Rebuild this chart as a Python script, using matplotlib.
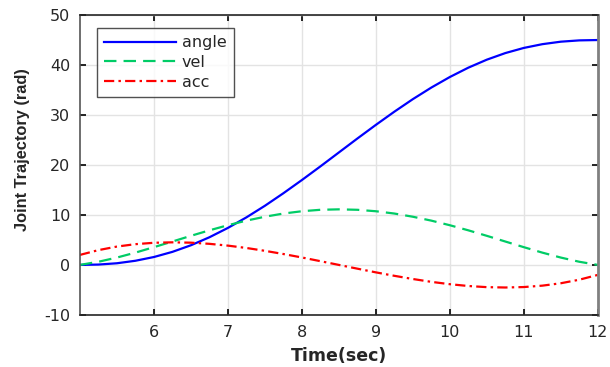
import numpy as np
import matplotlib
matplotlib.use('Agg')
import matplotlib.pyplot as plt
import matplotlib as mpl

mpl.rc('font', family='DejaVu Sans', size=11)

# time axis (sec), read every 0.25 s off the picture
Time = [5.0, 5.25, 5.5, 5.75, 6.0, 6.25, 6.5, 6.75, 7.0, 7.25, 7.5, 7.75, 8.0, 8.25, 8.5,
        8.75, 9.0, 9.25, 9.5, 9.75, 10.0, 10.25, 10.5, 10.75, 11.0, 11.25, 11.5, 11.75, 12.0]

Angle = [0.0, 0.07, 0.33, 0.83, 1.58, 2.61, 3.93, 5.53, 7.40, 9.51, 11.83, 14.34, 16.98, 19.71, 22.50,
         25.29, 28.02, 30.66, 33.17, 35.49, 37.60, 39.47, 41.07, 42.39, 43.42, 44.17, 44.67, 44.93, 45.0]

Vel = [0.0, 0.63, 1.47, 2.46, 3.55, 4.68, 5.82, 6.92, 7.94, 8.86, 9.64, 10.28, 10.74, 11.03, 11.12,
       11.03, 10.74, 10.28, 9.64, 8.86, 7.94, 6.92, 5.82, 4.68, 3.55, 2.46, 1.47, 0.63, 0.0]

Acc = [2.00, 2.96, 3.67, 4.15, 4.43, 4.52, 4.45, 4.22, 3.86, 3.39, 2.82, 2.18, 1.49, 0.75, 0.0,
       -0.75, -1.49, -2.18, -2.82, -3.39, -3.86, -4.22, -4.45, -4.52, -4.43, -4.15, -3.67, -2.96, -2.00]

XTicks = [6, 7, 8, 9, 10, 11, 12]
YTicks = [-10, 0, 10, 20, 30, 40, 50]
YTickLabels = ['-10', '0', '10', '20', '30', '40', '50']

fig = plt.figure(figsize=(6.1, 3.67), dpi=100)
ax = fig.add_axes([0.131, 0.142, 0.849, 0.817])

ax.plot(Time, Angle, '-', color='#0000ff', lw=1.6, label='angle')
ax.plot(Time, Vel, linestyle=(0, (5.6, 3.2)), color='#00cc66', lw=1.6, label='vel')
ax.plot(Time, Acc, linestyle=(0, (4.6, 1.9, 1.1, 1.9)), color='#ff0000', lw=1.6, label='acc')

ax.set_xlim(5, 12)
ax.set_ylim(-10, 50)
ax.set_xticks(XTicks)
ax.set_yticks(YTicks)
ax.set_yticklabels(YTickLabels)
ax.grid(True, color='#e3e3e3', lw=1.0)
ax.set_axisbelow(True)
ax.tick_params(direction='in', top=True, right=True, length=4, width=1.2,
               labelsize=11.5, labelcolor='#262626', pad=7)

for s in ['left', 'bottom', 'top']:
    ax.spines[s].set_color('#262626')
    ax.spines[s].set_linewidth(1.2)
ax.spines['left'].set_color('#555555')
ax.spines['right'].set_color('#808080')
ax.spines['right'].set_linewidth(2.0)

ax.set_xlabel('Time(sec)', fontsize=12.5, fontweight='bold', labelpad=5, color='#262626')
ax.set_ylabel('Joint Trajectory (rad)', family='Liberation Sans', fontsize=11.8,
              fontweight='bold', color='#262626')
ax.yaxis.set_label_coords(-0.097, 0.55)

leg = ax.legend(loc='upper left', bbox_to_anchor=(0.033, 0.957), borderaxespad=0,
                fontsize=11.5, frameon=True, fancybox=False, edgecolor='#262626',
                handlelength=4.5, borderpad=0.45, labelspacing=0.3, handletextpad=0.35)
leg.get_frame().set_linewidth(1.0)
for t in leg.get_texts():
    t.set_color('#262626')

fig.savefig('out.png', dpi=100)
